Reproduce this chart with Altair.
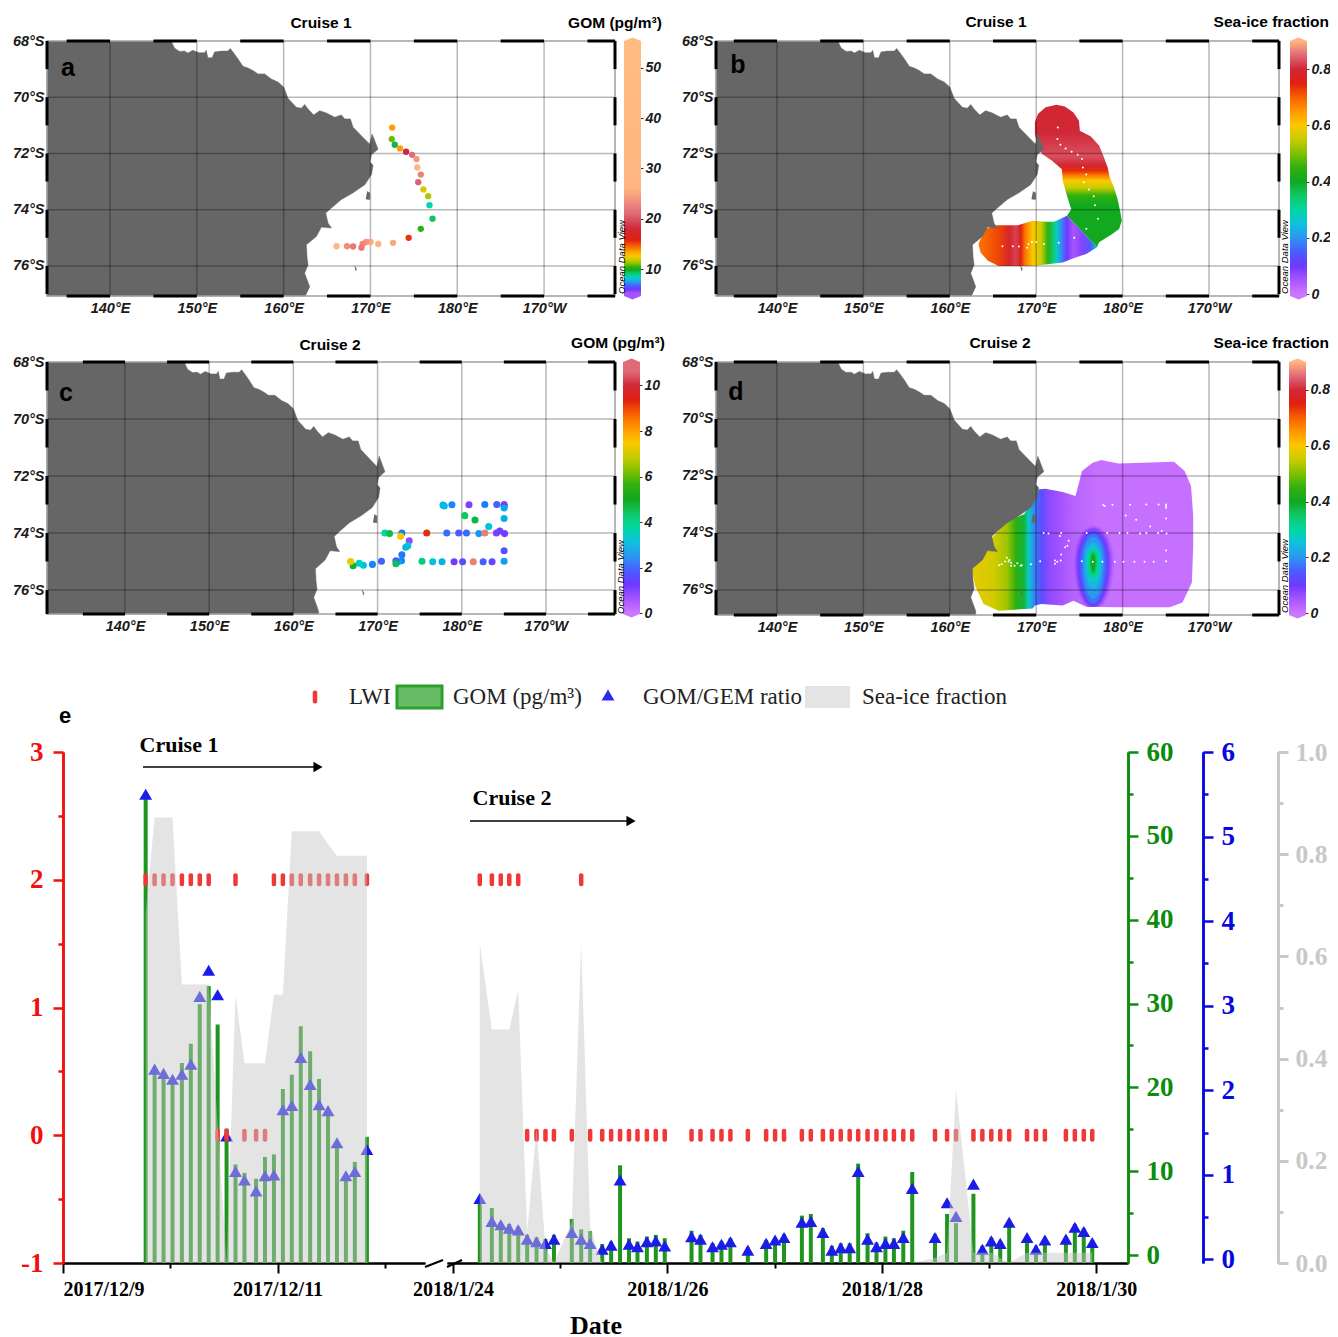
import altair as alt
import numpy as np
import pandas as pd

W, H = 1322, 1329
M = 8
SANS = "Liberation Sans"
SERIF = "Liberation Serif"

# ---------- colour ramp (sea-ice fraction value -> colour)
RAMP_V = [0, .05, .1, .15, .2, .25, .3, .35, .4, .45, .5, .55, .6, .65, .7, .75, .8, .85, .9]
RAMP_C = ["#cc77ff", "#a855ff", "#7038ff", "#4a5cff", "#2c96f0", "#10c0e0", "#00d8a0", "#10c868", "#12a820",
          "#30b010", "#80c000", "#c8cc00", "#fbc800", "#ff9800", "#f86000", "#e02010", "#d02838", "#e06a78", "#ffb580"]
GOM_A_V = [4.6, 5.2, 5.9, 6.6, 7.4, 8.0, 8.6, 9.2, 9.8, 10.4, 11.0, 11.8, 12.6, 13.6, 14.6, 15.8, 18.0, 21.0, 26.0, 55.3]
GOM_A_C = RAMP_C + ["#ffbc80"]
GOM_C_V = [v / 0.08 for v in RAMP_V]


def ramp(v):
    rgb = np.array([[int(c[i:i + 2], 16) for i in (1, 3, 5)] for c in RAMP_C], dtype=float)
    out = [np.interp(v, RAMP_V, rgb[:, k]) for k in range(3)]
    return "#%02x%02x%02x" % tuple(int(round(x)) for x in out)


# ---------- coast
COAST_LON = [147.04, 147.42, 148.0, 148.58, 148.96, 149.54, 150.23, 150.88, 151.08, 151.27, 151.77, 152.04, 152.81, 153.58,
             153.85, 154.23, 154.73, 155.31, 155.88, 156.46, 157.04, 157.81, 158.58, 159.35, 160.0, 160.38, 160.5, 161.46,
             162.04, 162.42, 162.81, 163.46, 164.15, 164.92, 165.88, 166.65, 167.04, 167.69, 168.0, 169.15, 169.92, 170.19,
             170.5, 170.88, 170.12, 169.95, 170.3, 170.12, 169.35, 168.0, 166.65, 165.5, 164.85, 165.12, 165.5, 164.35,
             163.77, 162.62, 162.69, 162.81, 162.42, 163.0, 162.54, 162.5]
COAST_LAT = [-68.0, -68.25, -68.37, -68.36, -68.43, -68.33, -68.42, -68.42, -68.33, -68.6, -68.6, -68.39, -68.36, -68.36,
             -68.27, -68.42, -68.63, -68.9, -68.96, -69.05, -69.17, -69.17, -69.35, -69.46, -69.64, -69.94, -70.04, -70.36,
             -70.39, -70.26, -70.42, -70.63, -70.48, -70.56, -70.71, -70.63, -70.77, -70.77, -71.07, -71.43, -71.67, -71.31,
             -71.55, -71.85, -72.04, -72.3, -72.42, -72.75, -73.11, -73.4, -73.64, -73.94, -74.12, -74.48, -74.65, -74.62,
             -74.95, -75.25, -75.67, -75.96, -76.26, -76.74, -77.04, -77.07]
ISLAND_LON = [169.62, 169.92, 169.92, 169.46]
ISLAND_LAT = [-73.35, -73.4, -73.64, -73.62]
ROCK_LON = [168.15, 168.4, 168.3]
ROCK_LAT = [-76.0, -76.1, -76.18]

# ---------- station data
A_LON = [172.5, 172.46, 172.8, 173.4, 174.1, 174.8, 175.3, 175.4, 175.8, 175.5, 176.1, 176.65, 176.8, 177.15, 175.8, 174.4,
         172.6, 170.9, 170.0, 169.5, 169.1, 168.96, 168.0, 167.3, 166.1]
A_LAT = [-71.08, -71.49, -71.69, -71.82, -71.94, -72.05, -72.2, -72.5, -72.75, -73.02, -73.28, -73.52, -73.84, -74.32,
         -74.68, -75.0, -75.18, -75.22, -75.15, -75.15, -75.22, -75.35, -75.31, -75.3, -75.3]
A_GOM = [13.5, 10.8, 9.5, 13.5, 18, 21, 24, 27, 22.5, 20.5, 12, 11.5, 8.5, 9.3, 10.3, 15.5, 25, 26, 25, 24, 23, 22, 22, 23.5, 27]

C_LON = [177.77, 177.92, 178.83, 180.86, 182.74, 184.16, 185.03, 185.03, 185.03, 180.36, 181.57, 183.2, 185.03,
         170.86, 171.42, 172.89, 172.74, 175.84, 178.22, 179.64, 180.56, 182.03, 182.74, 184.11, 184.52, 185.08,
         173.76, 173.6, 173.35, 172.89, 172.84, 172.44, 172.18, 172.18, 185.03, 185.03,
         170.46, 169.39, 168.32, 167.82, 167.1, 166.8,
         175.28, 176.55, 177.66, 179.09, 180.1, 181.37, 182.54, 183.6]
C_LAT = [-73.02, -73.05, -73.01, -73.01, -73.0, -73.0, -73.0, -73.05, -73.12, -73.39, -73.54, -73.77, -73.49,
         -74.0, -74.02, -74.0, -74.11, -74.0, -74.0, -74.0, -74.0, -74.02, -74.0, -74.0, -73.93, -74.02,
         -74.27, -74.45, -74.5, -74.76, -74.97, -75.01, -74.97, -75.08, -74.62, -74.99,
         -74.99, -75.1, -75.13, -75.06, -75.15, -75.0,
         -74.99, -75.01, -75.01, -75.01, -75.01, -75.01, -75.01, -75.01]
C_GOM = [2.9, 3, 2.3, 1.1, 2.2, 1.9, 1.0, 1.3, 2.8, 4.4, 4.7, 3.2, 2.9,
         3.7, 4.6, 2.2, 7.5, 9.3, 2.0, 1.8, 2, 2.6, 10.8, 1.1, 1.4, 1.2,
         0.9, 3.4, 3.0, 2.1, 2.3, 2.8, 1.8, 4.5, 1.7, 2.6,
         1.9, 2.3, 3.2, 3.5, 4.8, 7.3,
         4.1, 3.1, 2.9, 1.2, 1.6, 10.8, 1.9, 1.5]
D_EXTRA_LON = [165.7, 166.0, 166.4, 166.6, 166.9, 167.1, 167.5, 168.2]
D_EXTRA_LAT = [-75.13, -75.1, -75.0, -74.87, -74.95, -75.05, -75.15, -75.15]

# ---------- sea-ice fields: outlines (lon/lat) and value stops
BU_LON = [172.33, 173.32, 174.31, 174.95, 175.05, 176.29, 177.28, 177.77, 178.27, 178.51, 179.01, 179.41, 179.75, 179.9, 179.6,
          178.76, 177.28, 177.03, 173.56, 174.06, 173.56, 173.07, 172.97, 171.83, 170.69, 170.1, 169.85, 169.85, 170.2, 171.09]
BU_LAT = [-70.27, -70.33, -70.54, -70.84, -71.19, -71.39, -71.72, -72.08, -72.5, -72.85, -73.21, -73.62, -74.1, -74.39, -74.69,
          -74.87, -75.16, -75.34, -74.22, -73.98, -73.5, -72.97, -72.56, -72.26, -72.02, -71.72, -71.31, -70.89, -70.6, -70.36]
BU_STOP_LAT = [-70.27, -71.25, -72.08, -72.44, -72.61, -72.77, -72.97, -73.21, -73.5, -73.86, -75.34]
BU_STOP_VAL = [.79, .8, .83, .79, .74, .68, .6, .55, .45, .4, .4]
BL_LON = [164.06, 165.4, 167.87, 169.6, 171.09, 172.08, 173.56, 177.03, 175.79, 174.55, 173.07, 169.6, 165.64, 164.41, 163.56, 163.32]
BL_LAT = [-74.69, -74.55, -74.55, -74.39, -74.43, -74.43, -74.22, -75.34, -75.58, -75.7, -75.88, -76.0, -76.0, -75.82, -75.52, -75.22]
BL_STOP_LON = [163.32, 165.64, 166.88, 167.62, 168.22, 168.71, 169.6, 170.59, 171.34, 171.93, 172.33, 172.82, 173.56, 174.31, 175.3, 176.29, 177.03]
BL_STOP_VAL = [.68, .72, .78, .82, .76, .68, .6, .55, .45, .35, .28, .2, .1, .05, .08, .15, .25]
D_LON = [177.52, 179.5, 182.48, 185.94, 187.18, 187.92, 188.17, 188.17, 188.02, 186.93, 185.45, 179.5, 175.79, 174.31, 173.07,
         170.59, 169.85, 169.6, 165.64, 163.91, 162.92, 162.57, 164.16, 164.9, 166.63, 168.61, 170.35, 171.09, 173.07, 174.55,
         175.05, 175.3, 176.53]
D_LAT = [-71.44, -71.56, -71.54, -71.5, -71.83, -72.35, -73.4, -74.45, -75.74, -76.44, -76.61, -76.61, -76.59, -76.38, -76.55,
         -76.49, -76.55, -76.65, -76.73, -76.49, -75.85, -75.27, -74.63, -74.16, -73.58, -73.34, -72.47, -72.45, -72.56, -72.7,
         -72.12, -71.83, -71.54]
D_STOP_LON = [162.57, 165.15, 166.63, 167.62, 168.61, 169.1, 169.85, 170.59, 171.58, 173.07, 174.31, 177.03, 188.17]
D_STOP_VAL = [.58, .56, .52, .45, .38, .27, .18, .13, .07, .05, .03, .01, .01]
# contours of the patch at about 176.6E, 75S: value, half-width (deg lon), reach north and south (deg lat)
BLOB_VAL = [.03, .05, .08, .11, .14, .17, .2, .24, .28, .32, .36, .4]
BLOB_HW = [2.4, 2.2, 2.0, 1.8, 1.6, 1.4, 1.2, 1.0, .8, .6, .4, .25]
BLOB_N = [1.3, 1.25, 1.2, 1.1, 1.05, 1.0, .9, .7, .55, .45, .38, .3]
BLOB_S = [1.7, 1.65, 1.6, 1.55, 1.5, 1.45, 1.3, .95, .7, .55, .42, .32]

# ---------- time series
C1_H = [18.5, 20.5, 22.5, 24.5, 26.6, 28.6, 30.6, 32.6, 34.6, 36.6, 38.6, 40.6, 43.2, 45.2, 47.2, 49.2, 51.2, 53.2, 55.3, 57.3,
        59.3, 61.3, 63.3, 65.3, 68.0]
C1_GOM = [54.8, 22.0, 21.2, 20.7, 22.9, 25.2, 29.9, 32.1, 27.5, 15.1, 10.8, 9.8, 9.1, 11.7, 12.0, 19.8, 21.5, 27.3, 24.3, 21.0,
          17.4, 13.4, 9.5, 11.1, 14.1]
C1_RATIO = [5.50, 2.25, 2.20, 2.13, 2.19, 2.31, 3.11, 3.42, 3.13, 1.46, 1.04, .94, .81, .99, 1.0, 1.77, 1.82, 2.39, 2.07, 1.83,
            1.76, 1.38, .99, 1.04, 1.30]
C1_LWI = [2, 2, 2, 2, 2, 2, 2, 2, 0, 0, 2, 0, 0, 0, 2, 2, 2, 2, 2, 2, 2, 2, 2, 2, 2]
C1_ICE = [.685, .872, .872, .872, .545, .545, .545, .545, .272, 0, .525, .391, .391, .391, .525, .525, .845, .845, .845, .845,
          .82, .797, .797, .797, .797]

C2_H = [6.0, 8.7, 10.7, 12.6, 14.6, 16.6, 18.7, 20.7, 22.6, 26.6, 28.7, 30.7, 33.4, 35.4, 37.4, 39.4, 41.3, 43.4, 45.4, 47.4,
        53.4, 55.4, 58.1, 60.1, 62.1, 66.0, 70.1, 72.1, 74.1, 78.1, 80.1, 82.8, 84.8, 86.8, 88.8, 90.7, 92.8, 94.8, 96.8,
        98.7, 100.8, 102.8, 107.9, 110.6, 112.6, 116.5, 118.5, 120.5, 122.5, 124.5, 128.5, 130.5, 132.5, 137.2, 139.2, 141.2, 143.1]
C2_GOM = [6.7, 5.6, 3.9, 3.7, 3.4, 2.4, 2.1, 1.9, 2.4, 4.3, 3.05, 2.85, 1.3, 1.6, 10.7, 2.0, 1.6, 2.2, 2.4, 2.0,
          2.9, 2.4, 1.4, 1.6, 2.0, .9, 1.8, 2.0, 2.5, 4.7, 4.9, 3.2, 1.1, 1.4, 1.4, 10.9, 2.6, 1.5, 2.2,
          2.0, 2.9, 9.9, 2.5, 4.9, 3.8, 7.3, 1.1, 2.1, 1.7, 4.2, 2.4, 1.1, 2.1, 2.2, 3.7, 3.2, 1.8]
C2_RATIO = [.72, .45, .41, .37, .35, .24, .21, .19, .24, .32, .24, .19, .12, .17, .94, .18, .15, .21, .22, .16,
            .27, .24, .15, .18, .21, .11, .19, .23, .26, .44, .45, .32, .11, .14, .14, 1.04, .24, .15, .19,
            .19, .26, .84, .26, .67, .51, .89, .12, .22, .19, .44, .26, .12, .23, .24, .38, .33, .20]
C2_LWI = [2, 2, 2, 2, 2, 0, 0, 0, 0, 0, 2, 0, 0, 0, 0, 0, 0, 0, 0, 0,
          0, 0, 0, 0, 0, 0, 0, 0, 0, 0, 0, 0, 0, 0, 0, 0, 0, 0, 0,
          0, 0, 0, 0, 0, 0, 0, 0, 0, 0, 0, 0, 0, 0, 0, 0, 0, 0]
C2_ICE = [.625, .457, .457, .457, .535, .06, .264, .03, 0, .08, .625, .07, 0, 0, 0, 0, 0, 0, 0, 0,
          0, 0, 0, 0, 0, 0, 0, 0, 0, 0, 0, 0, 0, 0, 0, 0, 0, 0, 0,
          0, 0, 0, .01, .02, .34, .02, .02, .02, .01, 0, .02, .02, .02, .02, .02, .02, .02]

LON_TICKS = [140, 150, 160, 170, 180, 190]
LAT_TICKS = [-68, -70, -72, -74, -76]


def vgrad(stops_offset, stops_color, x1=0, y1=0, x2=0, y2=1):
    return {"gradient": "linear", "x1": x1, "y1": y1, "x2": x2, "y2": y2,
            "stops": [{"offset": float(o), "color": c} for o, c in zip(stops_offset, stops_color)]}


def text(s, x, y, size, font=SANS, weight="bold", style="normal", color="black", angle=0, align="center"):
    return alt.Chart(pd.DataFrame({"t": [s]})).mark_text(
        font=font, fontSize=size, fontWeight=weight, fontStyle=style, color=color, angle=angle, align=align,
        baseline="middle").encode(text="t:N", x=alt.value(x - M), y=alt.value(y - M))


def map_panel(px0, px1, lon0, lon1, py_top, py_bot, lat_bot, fields):
    xs = alt.Scale(domain=[lon0, lon1], range=[px0 - M, px1 - M], nice=False, zero=False)
    ys = alt.Scale(domain=[lat_bot, -68], range=[py_bot - M, py_top - M], nice=False, zero=False)

    def X(f):
        return alt.X(f, type="quantitative", scale=xs, axis=None)

    def Y(f):
        return alt.Y(f, type="quantitative", scale=ys, axis=None)

    def poly(lons, lats, **mark):
        df = pd.DataFrame({"lon": lons, "lat": lats, "i": range(len(lons))})
        return alt.Chart(df).mark_line(**mark).encode(x=X("lon"), y=Y("lat"), order=alt.Order("i:Q"))

    layers = []
    # sea-ice field
    layers += fields(poly)
    # land
    cl = [(a, b) for a, b in zip(COAST_LON, COAST_LAT) if b >= lat_bot]
    lons = [c[0] for c in cl] + [cl[-1][0], lon0, lon0]
    lats = [c[1] for c in cl] + [lat_bot, lat_bot, -68]
    layers.append(poly(lons, lats, fill="#666666", stroke="#666666", strokeWidth=0.5))
    layers.append(poly(ISLAND_LON, ISLAND_LAT, fill="#666666", stroke="#666666", strokeWidth=0.5))
    layers.append(poly(ROCK_LON, ROCK_LAT, fill="#666666", stroke="#666666", strokeWidth=0.5))
    # graticule
    gl = pd.DataFrame({"lon": LON_TICKS, "a": lat_bot, "b": -68})
    layers.append(alt.Chart(gl).mark_rule(color="black", opacity=.28, strokeWidth=1.5).encode(x=X("lon"), y=Y("a"), y2=alt.Y2("b")))
    gt = pd.DataFrame({"lat": LAT_TICKS[1:], "a": lon0, "b": lon1})
    layers.append(alt.Chart(gt).mark_rule(color="black", opacity=.28, strokeWidth=1.5).encode(y=Y("lat"), x=X("a"), x2=alt.X2("b")))
    # frame
    fr = pd.DataFrame({"a": [lon0], "b": [lon1], "c": [lat_bot], "d": [-68]})
    layers.append(alt.Chart(fr).mark_rect(fill="transparent", stroke="#a0a0a0", strokeWidth=1.5).encode(
        x=X("a"), x2=alt.X2("b"), y=Y("c"), y2=alt.Y2("d")))
    dash_x = [v for v in range(135, 200, 10) if v < lon1]
    dx = pd.DataFrame({"a": dash_x, "b": [min(v + 5, lon1) for v in dash_x]})
    for edge in (-68, lat_bot):
        layers.append(alt.Chart(dx.assign(y=edge)).mark_rule(color="black", strokeWidth=3).encode(
            x=X("a"), x2=alt.X2("b"), y=Y("y")))
    dy = pd.DataFrame({"a": [-68, -70, -72, -74, -76], "b": [-69, -71, -73, -75, max(-77, lat_bot)]})
    for edge in (lon0, lon1):
        layers.append(alt.Chart(dy.assign(x=edge)).mark_rule(color="black", strokeWidth=3).encode(
            y=Y("a"), y2=alt.Y2("b"), x=X("x")))
    # axes
    lab = dict(labelFont=SANS, labelFontSize=14.5, labelFontStyle="italic", labelFontWeight="bold", labelColor="#1a1a1a",
               domain=False, ticks=False, grid=False, title=None, labelOverlap=False)
    ax = alt.Chart(pd.DataFrame({"lon": [lon0], "lat": [lat_bot]})).mark_point(opacity=0).encode(
        x=alt.X("lon:Q", scale=xs, axis=alt.Axis(orient="bottom", offset=py_bot - M - H, values=LON_TICKS, labelPadding=5,
                                                 labelExpr="datum.value>180 ? (360-datum.value)+'°W' : datum.value+'°E'", **lab)),
        y=alt.Y("lat:Q", scale=ys, axis=alt.Axis(orient="left", offset=-(px0 - M), values=LAT_TICKS, labelPadding=3,
                                                 labelExpr="abs(datum.value)+'°S'", **lab)))
    layers.append(ax)
    return layers, X, Y


def stations(X, Y, lons, lats, vals=None, dom=None, rng=None, size=36):
    if vals is None:
        df = pd.DataFrame({"lon": lons, "lat": lats})
        return alt.Chart(df).mark_circle(color="white", size=4, opacity=1).encode(x=X("lon"), y=Y("lat"))
    df = pd.DataFrame({"lon": lons, "lat": lats, "v": vals})
    return alt.Chart(df).mark_circle(size=size, opacity=1).encode(
        x=X("lon"), y=Y("lat"), color=alt.Color("v:Q", scale=alt.Scale(domain=dom, range=rng), legend=None))


def colorbar(px0, px1, py_top, py_bot, vmin, vmax, dom, cols, ticks):
    xs = alt.Scale(domain=[0, 1], range=[px0 - M, px1 - M], nice=False, zero=False)
    ys = alt.Scale(domain=[vmin, vmax], range=[py_bot - M, py_top - M], nice=False, zero=False)
    pairs = sorted([((vmax - v) / (vmax - vmin), c) for v, c in zip(dom, cols) if vmin <= v <= vmax])
    grad = vgrad([p[0] for p in pairs], [p[1] for p in pairs])
    x = alt.X("a:Q", scale=xs, axis=None)
    y = alt.Y("c:Q", scale=ys, axis=None)
    body = alt.Chart(pd.DataFrame({"a": [0], "b": [1], "c": [vmin], "d": [vmax]})).mark_rect(fill=grad).encode(
        x=x, x2=alt.X2("b"), y=y, y2=alt.Y2("d"))
    d = (vmax - vmin) / (py_bot - py_top) * 3.5
    top = pd.DataFrame({"a": [0, .5, 1], "c": [vmax, vmax + d, vmax], "i": [0, 1, 2]})
    bot = pd.DataFrame({"a": [0, .5, 1], "c": [vmin, vmin - d, vmin], "i": [0, 1, 2]})
    cap_t = alt.Chart(top).mark_line(fill=pairs[0][1], stroke="transparent").encode(x=x, y=y, order="i:Q")
    cap_b = alt.Chart(bot).mark_line(fill=pairs[-1][1], stroke="transparent").encode(x=x, y=y, order="i:Q")
    ax = alt.Chart(pd.DataFrame({"a": [0], "c": [vmin]})).mark_point(opacity=0).encode(
        y=alt.Y("c:Q", scale=ys, axis=alt.Axis(
            orient="right", offset=px1 - 3 - M - W, values=ticks, labelExpr="''+datum.value", domain=False, grid=False, title=None,
            tickSize=5, tickColor="#333333", tickWidth=1, labelPadding=2, labelFont=SANS, labelFontSize=14, labelFontStyle="italic",
            labelFontWeight="bold", labelColor="#1a1a1a", labelOverlap=False)))
    return [body, cap_t, cap_b, ax]


# ------------------------------------------------- panels
def fields_none(poly):
    return []


def fields_b(poly):
    u_off = [(BU_STOP_LAT[0] - v) / (BU_STOP_LAT[0] - BU_STOP_LAT[-1]) for v in BU_STOP_LAT]
    l_off = [(v - BL_STOP_LON[0]) / (BL_STOP_LON[-1] - BL_STOP_LON[0]) for v in BL_STOP_LON]
    return [
        poly(BU_LON, BU_LAT, fill=vgrad(u_off, [ramp(v) for v in BU_STOP_VAL]), stroke="transparent"),
        poly(BL_LON, BL_LAT, fill=vgrad(l_off, [ramp(v) for v in BL_STOP_VAL], x2=1, y2=0), stroke="transparent"),
    ]


def fields_d(poly):
    off = [(v - D_STOP_LON[0]) / (D_STOP_LON[-1] - D_STOP_LON[0]) for v in D_STOP_LON]
    out = [poly(D_LON, D_LAT, fill=vgrad(off, [ramp(v) for v in D_STOP_VAL], x2=1, y2=0), stroke="transparent")]
    angles = np.deg2rad(np.arange(0, 360, 15))
    for v, hw, n, s in zip(BLOB_VAL, BLOB_HW, BLOB_N, BLOB_S):
        lons = 176.6 + hw * np.cos(angles)
        lats = np.maximum(-75.03 + np.sin(angles) * np.where(np.sin(angles) > 0, n, s), -76.6)
        out.append(poly(list(lons), list(lats), fill=ramp(v), stroke="transparent"))
    return out


charts = []

# a
l, X, Y = map_panel(47, 615, 132.74, 198.17, 41, 296, -77.07, fields_none)
l.append(stations(X, Y, A_LON, A_LAT, A_GOM, GOM_A_V, GOM_A_C, 40))
charts += l
charts += colorbar(624, 641, 41, 296, 4.64, 55.3, GOM_A_V, GOM_A_C, [10, 20, 30, 40, 50])
# b
l, X, Y = map_panel(716, 1279, 132.94, 198.1, 41, 296, -77.07, fields_b)
l.append(stations(X, Y, A_LON, A_LAT))
charts += l
charts += colorbar(1290, 1307, 41, 296, -.007, .9, RAMP_V, RAMP_C, [0, .2, .4, .6, .8])
# c
l, X, Y = map_panel(47, 615, 130.74, 198.2, 362, 614, -76.84, fields_none)
l.append(stations(X, Y, C_LON, C_LAT, C_GOM, GOM_C_V, RAMP_C, 50))
charts += l
charts += colorbar(623, 640, 362, 614, -.03, 11.03, GOM_C_V, RAMP_C, [0, 2, 4, 6, 8, 10])
# d
l, X, Y = map_panel(716, 1279, 132.94, 198.1, 362, 615, -76.88, fields_d)
l.append(stations(X, Y, C_LON + D_EXTRA_LON, C_LAT + D_EXTRA_LAT))
charts += l
charts += colorbar(1289, 1306, 362, 615, -.006, .9, RAMP_V, RAMP_C, [0, .2, .4, .6, .8])

# ------------------------------------------------- bottom chart
Y_TOP, Y_BOT = 752 - M, 1263 - M
XL = alt.Scale(domain=[0, 81.0], range=[63 - M, 425 - M], nice=False, zero=False)
XR = alt.Scale(domain=[-1.34, 151.1], range=[447 - M, 1128 - M], nice=False, zero=False)
RED = alt.Scale(domain=[-1, 3], range=[Y_BOT, Y_TOP], nice=False, zero=False)
GREEN = alt.Scale(domain=[-.954, 60], range=[Y_BOT, Y_TOP], nice=False, zero=False)
BLUE = alt.Scale(domain=[-.042, 6], range=[Y_BOT, Y_TOP], nice=False, zero=False)
GRAY = alt.Scale(domain=[0, 1], range=[Y_BOT, Y_TOP], nice=False, zero=False)
C_RED, C_GREEN, C_BLUE, C_GRAY = "#f01010", "#0c8c0c", "#0808e0", "#c8c8c8"


def series(xs, h, gom, ratio, lwi, ice):
    df = pd.DataFrame({"h": h, "gom": gom, "ratio": ratio, "lwi": lwi, "ice": ice, "base": -.954})
    x = alt.X("h:Q", scale=xs, axis=None)
    bars = alt.Chart(df).mark_rule(strokeWidth=4, color="#1e961e").encode(
        x=x, y=alt.Y("gom:Q", scale=GREEN, axis=None), y2=alt.Y2("base:Q"))
    tri = alt.Chart(df).mark_point(shape="triangle-up", filled=True, size=165, color="#1c1ce8", opacity=1).encode(
        x=x, y=alt.Y("ratio:Q", scale=BLUE, axis=None))
    red = alt.Chart(df).mark_tick(orient="vertical", size=13, thickness=4.5, cornerRadius=2, color="#f03838", opacity=1).encode(
        x=x, y=alt.Y("lwi:Q", scale=RED, axis=None))
    area = alt.Chart(df).mark_area(color="#c6c6c6", opacity=.48, line=False).encode(
        x=x, y=alt.Y("ice:Q", scale=GRAY, axis=None, stack=None))
    return [bars, tri, red, area]


for lay in zip(series(XL, C1_H, C1_GOM, C1_RATIO, C1_LWI, C1_ICE), series(XR, C2_H, C2_GOM, C2_RATIO, C2_LWI, C2_ICE)):
    charts.extend(lay)


def y_axis(scale, major, minor, color, orient, px, fs=27, width=2.5, big=10, small=5, pad=8, expr="''+datum.value", lab_color=None):
    off = -(px - M) if orient == "left" else (px - M) - W
    base = dict(orient=orient, offset=off, grid=False, title=None, tickColor=color, tickWidth=width, domainColor=color,
                domainWidth=width, labelOverlap=False, labelFont=SERIF, labelFontWeight="bold", labelFontSize=fs,
                labelColor=lab_color or color, labelPadding=pad)
    a = alt.Chart(pd.DataFrame({"v": major})).mark_point(opacity=0).encode(
        y=alt.Y("v:Q", scale=scale, axis=alt.Axis(values=major, tickSize=big, labelExpr=expr, **base)))
    b = alt.Chart(pd.DataFrame({"v": minor})).mark_point(opacity=0).encode(
        y=alt.Y("v:Q", scale=scale, axis=alt.Axis(values=minor, tickSize=small, labels=False, **base)))
    return [b, a]


charts += y_axis(RED, [-1, 0, 1, 2, 3], [-.5, .5, 1.5, 2.5], C_RED, "left", 63, pad=10)
charts += y_axis(GREEN, [0, 10, 20, 30, 40, 50, 60], [5, 15, 25, 35, 45, 55], C_GREEN, "right", 1128)
charts += y_axis(BLUE, [0, 1, 2, 3, 4, 5, 6], [.5, 1.5, 2.5, 3.5, 4.5, 5.5], C_BLUE, "right", 1203)
charts += y_axis(GRAY, [0, .2, .4, .6, .8, 1.0], [.1, .3, .5, .7, .9], C_GRAY, "right", 1278, fs=25.5, width=3, pad=7,
                 expr="format(datum.value,'.1f')")


def x_axis(scale, major, minor, expr):
    base = dict(orient="bottom", offset=Y_BOT - H, grid=False, title=None, tickColor="black", tickWidth=2, domainColor="black",
                domainWidth=2, labelOverlap=False, labelFont=SERIF, labelFontWeight="bold", labelFontSize=20, labelColor="black",
                labelPadding=6)
    a = alt.Chart(pd.DataFrame({"v": major})).mark_point(opacity=0).encode(
        x=alt.X("v:Q", scale=scale, axis=alt.Axis(values=major, tickSize=10, labelExpr=expr, **base)))
    b = alt.Chart(pd.DataFrame({"v": minor})).mark_point(opacity=0).encode(
        x=alt.X("v:Q", scale=scale, axis=alt.Axis(values=minor, tickSize=5, labels=False, **base)))
    return [a, b]


charts += x_axis(XL, [0, 48], [24, 72], "datum.value==0 ? '2017/12/9' : '2017/12/11'")
charts += x_axis(XR, [0, 48, 96, 144], [24, 72, 120],
                 "datum.value==0 ? '2018/1/24' : datum.value==48 ? '2018/1/26' : datum.value==96 ? '2018/1/28' : '2018/1/30'")


# axis break marks, cruise arrows
def seg(x0, y0, x1, y1, color="black", w=2):
    return alt.Chart(pd.DataFrame({"k": [0]})).mark_rule(color=color, strokeWidth=w).encode(
        x=alt.value(x0 - M), x2=alt.value(x1 - M), y=alt.value(y0 - M), y2=alt.value(y1 - M))


charts += [seg(425, 1267, 443, 1260), seg(447, 1267, 462, 1260)]
charts += [seg(143, 767, 314, 767, w=1.5), seg(470, 821, 627, 821, w=1.5)]
for ax_, ay_ in ((318, 767), (631, 821)):
    charts.append(alt.Chart(pd.DataFrame({"k": [0]})).mark_point(shape="triangle-right", filled=True, size=110, color="black", opacity=1).encode(
        x=alt.value(ax_ - M), y=alt.value(ay_ - M)))

# legend
charts.append(alt.Chart(pd.DataFrame({"k": [0]})).mark_tick(orient="vertical", size=13, thickness=4.5, cornerRadius=2, color="#f03838", opacity=1).encode(
    x=alt.value(315 - M), y=alt.value(697 - M)))
charts.append(alt.Chart(pd.DataFrame({"k": [0]})).mark_rect(fill="#68bc68", stroke="#2ca02c", strokeWidth=3).encode(
    x=alt.value(397 - M), x2=alt.value(442 - M), y=alt.value(686 - M), y2=alt.value(708 - M)))
charts.append(alt.Chart(pd.DataFrame({"k": [0]})).mark_point(shape="triangle-up", filled=True, size=165, color="#2a2af0", opacity=1).encode(
    x=alt.value(608 - M), y=alt.value(695 - M)))
charts.append(alt.Chart(pd.DataFrame({"k": [0]})).mark_rect(fill="#e4e4e4").encode(
    x=alt.value(805 - M), x2=alt.value(850 - M), y=alt.value(686 - M), y2=alt.value(708 - M)))
LEG = dict(font=SERIF, weight="normal", color="#222222")
charts += [
    text("LWI", 349, 697, 23, align="left", **LEG),
    text("GOM (pg/m³)", 453, 697, 23, align="left", **LEG),
    text("GOM/GEM ratio", 643, 697, 23, align="left", **LEG),
    text("Sea-ice fraction", 862, 697, 23, align="left", **LEG),
    text("e", 65, 716, 22, font=SANS),
    text("Cruise 1", 179, 745, 22, font=SERIF),
    text("Cruise 2", 512, 798, 22, font=SERIF),
    text("Date", 596, 1326, 26, font=SERIF),
    text("Cruise 1", 321, 23, 15.5), text("GOM (pg/m³)", 615, 23, 15.5),
    text("Cruise 1", 996, 22, 15.5), text("Sea-ice fraction", 1329, 22, 15.5, align="right"),
    text("Cruise 2", 330, 345, 15.5), text("GOM (pg/m³)", 618, 343, 15.5),
    text("Cruise 2", 1000, 343, 15.5), text("Sea-ice fraction", 1329, 343, 15.5, align="right"),
    text("a", 68, 68, 25), text("b", 738, 65, 25), text("c", 66, 393, 25), text("d", 736, 392, 25),
]
for ox, oy in ((622, 257), (1285, 257), (621, 577), (1285, 576)):
    charts.append(text("Ocean Data View", ox, oy, 9.5, style="italic", weight="normal", angle=270))

chart = alt.layer(*charts).resolve_scale(x="independent", y="independent", color="independent").resolve_axis(
    x="independent", y="independent").properties(
    width=W, height=H, padding=0, autosize=alt.AutoSizeParams(type="none"), background="white"
).configure_view(stroke=None)

chart.save("out.html", embed_options={"renderer": "svg", "actions": False})
